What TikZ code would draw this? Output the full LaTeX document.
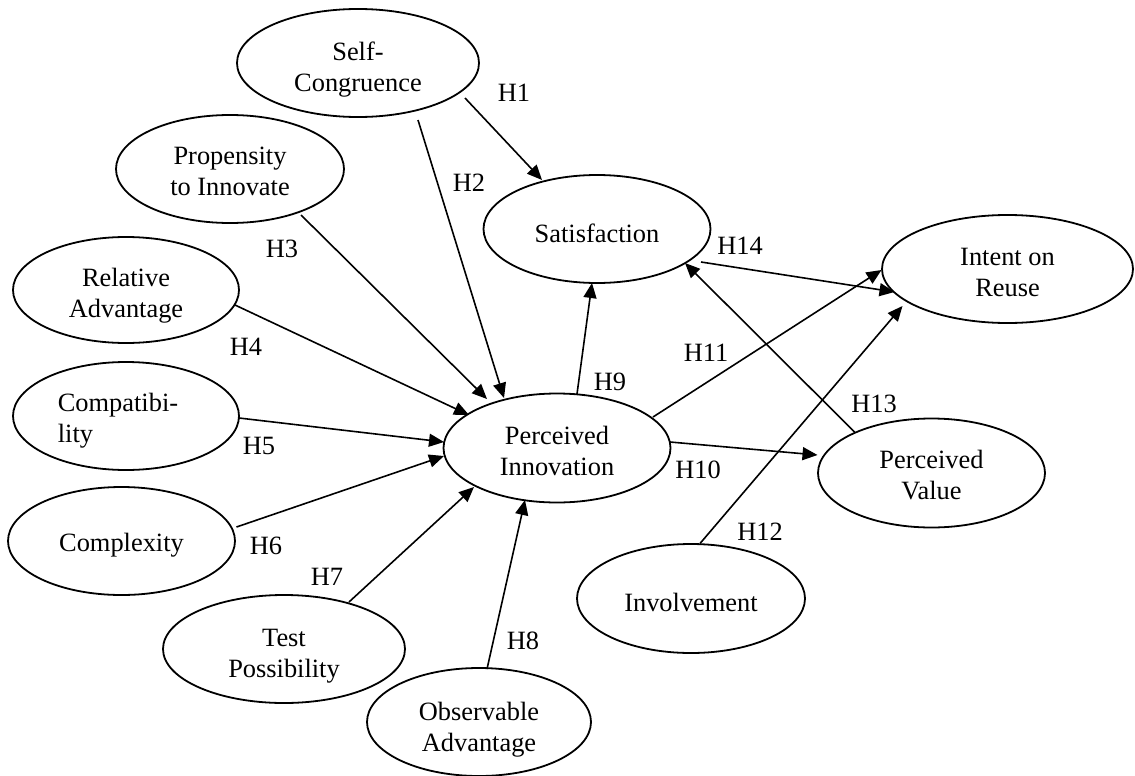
\documentclass[tikz,border=0pt]{standalone}
\usepackage{fontspec}
\setmainfont{Liberation Serif}
\usetikzlibrary{shapes.geometric,arrows.meta,calc}
\newcommand{\tsh}[1]{\rule{0pt}{#1pt}}
\begin{document}
\begin{tikzpicture}[x=0.5pt,y=-0.5pt,
  ell/.style={draw, line width=0.9pt, ellipse, inner sep=0pt, align=center,
    font=\fontsize{13.2pt}{15.5pt}\selectfont},
  conn/.style={line width=0.8pt, -{Triangle[length=7.5pt,width=6.5pt]}},
  hyp/.style={font=\fontsize{13.2pt}{15.5pt}\selectfont, inner sep=0pt}]
\useasboundingbox (0,0) rectangle (1135,776);
% constructs
\node[ell, minimum width=121pt, minimum height=54pt] (sc) at (358,63) {\tsh{15.5}Self-\\Congruence};
\node[ell, minimum width=114pt, minimum height=54pt] (pi) at (230,169) {\tsh{11.5}Propensity\\to Innovate};
\node[ell, minimum width=113pt, minimum height=53pt] (ra) at (126,290) {\tsh{14.5}Relative\\Advantage};
\node[ell, minimum width=113pt, minimum height=54pt, align=left] (co) at (126,416) {\tsh{13.5}Compatibi-\makebox[8pt]{}\\lity};
\node[ell, minimum width=113.5pt, minimum height=54pt] (cx) at (121.5,541) {\tsh{13.5}Complexity};
\node[ell, minimum width=121pt, minimum height=54pt] (tp) at (284,649) {\tsh{16.3}Test\\Possibility};
\node[ell, minimum width=112pt, minimum height=54pt] (oa) at (479,722) {\tsh{17}Observable\\Advantage};
\node[ell, minimum width=113.5pt, minimum height=54.5pt] (pin) at (557,448) {\tsh{12}Perceived\\Innovation};
\node[ell, minimum width=113.5pt, minimum height=54pt] (sa) at (597,229) {\tsh{13.5}Satisfaction};
\node[ell, minimum width=125.5pt, minimum height=54pt] (ir) at (1007.5,269) {\tsh{12.3}Intent on\\Reuse};
\node[ell, minimum width=113.5pt, minimum height=54.5pt] (pv) at (931.5,473) {\tsh{11.5}Perceived\\Value};
\node[ell, minimum width=114pt, minimum height=54.5pt] (inv) at (691,598.5) {\tsh{13.5}Involvement};
% connectors
\draw[conn] ($(sc)+(107,35)$) -- ($(sa)+(-55,-49)$);
\draw[conn] ($(sc)+(60,57)$) -- ($(pin)+(-53,-50)$);
\draw[conn] ($(pi)+(71,46)$) -- ($(pin)+(-70,-49)$);
\draw[conn] ($(ra)+(109,15)$) -- ($(pin)+(-88,-33)$);
\draw[conn] ($(co)+(113,2)$) -- ($(pin)+(-113,-6)$);
\draw[conn] ($(cx)+(115,-14)$) -- ($(pin)+(-113,8)$);
\draw[conn] ($(tp)+(65,-47)$) -- ($(pin)+(-83,39)$);
\draw[conn] ($(oa)+(8,-53)$) -- ($(pin)+(-32,52)$);
\draw[conn] ($(pin)+(20,-54)$) -- ($(sa)+(-5,54)$);
\draw[conn] ($(pin)+(113,-6)$) -- ($(pv)+(-114,-18)$);
\draw[conn] ($(pin)+(96,-31)$) -- ($(ir)+(-126,1)$);
\draw[conn] ($(inv)+(9,-55)$) -- ($(ir)+(-105,37)$);
\draw[conn] ($(pv)+(-77,-41)$) -- ($(sa)+(88,34)$);
\draw[conn] ($(sa)+(104,33)$) -- ($(ir)+(-113,23)$);
% hypothesis labels
\node[hyp] (h1) at (514,93) {H1};
\node[hyp] (h2) at (469,183) {H2};
\node[hyp] (h3) at (282,249) {H3};
\node[hyp] (h4) at (246,347) {H4};
\node[hyp] (h5) at (259,446) {H5};
\node[hyp] (h6) at (266,546) {H6};
\node[hyp] (h7) at (327,577) {H7};
\node[hyp] (h8) at (523,641) {H8};
\node[hyp] (h9) at (610,382) {H9};
\node[hyp] (h10) at (698,470) {H10};
\node[hyp] (h11) at (706,353) {H11};
\node[hyp] (h12) at (760,532) {H12};
\node[hyp] (h13) at (874,404) {H13};
\node[hyp] (h14) at (740,246) {H14};
\end{tikzpicture}
\end{document}
